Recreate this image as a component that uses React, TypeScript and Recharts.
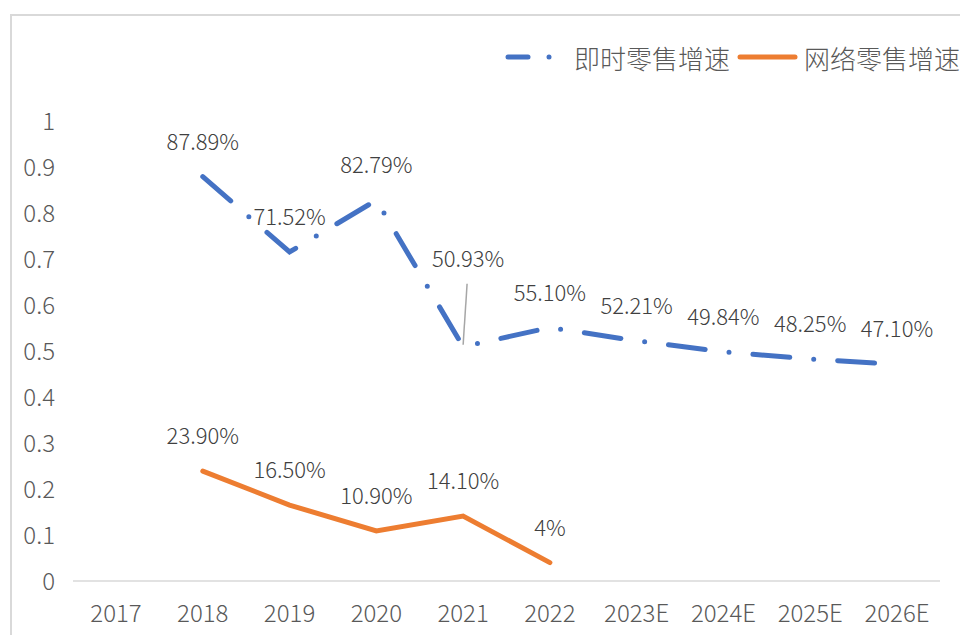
import React from 'react';
import { LineChart, Line, XAxis, YAxis, LabelList } from 'recharts';

const years = ['2017', '2018', '2019', '2020', '2021', '2022', '2023E', '2024E', '2025E', '2026E'];
const instantRetail = [null, 0.8789, 0.7152, 0.8279, 0.5093, 0.551, 0.5221, 0.4984, 0.4825, 0.471];
const onlineRetail = [null, 0.239, 0.165, 0.109, 0.141, 0.04, null, null, null, null];
const yTicks = [0, 0.1, 0.2, 0.3, 0.4, 0.5, 0.6, 0.7, 0.8, 0.9, 1];

const data = years.map((year, i) => ({
  year,
  instant: instantRetail[i],
  online: onlineRetail[i],
}));

const FONT = '"Noto Sans CJK SC", "Noto Sans", sans-serif';
const BLUE = '#4472C4';
const ORANGE = '#ED7D31';

const fmt = (v: number) => {
  const p = Math.round(v * 10000) / 100;
  return Number.isInteger(p) ? `${p}%` : `${p.toFixed(2)}%`;
};

const makeLabel = (leaderIndex: number) => (props: any) => {
  const { x, y, value, index } = props;
  if (value == null) return null;
  if (index === leaderIndex) {
    return (
      <g>
        <line x1={x + 4} y1={y - 63} x2={x} y2={y - 2} stroke="#a6a6a6" strokeWidth={1.5} />
        <text x={x + 5} y={y - 90} textAnchor="middle" dominantBaseline="central"
          fontSize={22} fontWeight={300} fill="#404040" fontFamily={FONT}>{fmt(value)}</text>
      </g>
    );
  }
  return (
    <text x={x} y={y - 37} textAnchor="middle" dominantBaseline="central"
      fontSize={22} fontWeight={300} fill="#404040" fontFamily={FONT}>{fmt(value)}</text>
  );
};

const LegendBox = () => (
  <svg width={460} height={40} style={{ display: 'block', overflow: 'visible' }}>
    <line x1={5} y1={20} x2={25} y2={20} stroke={BLUE} strokeWidth={5} strokeLinecap="round" />
    <circle cx={46} cy={20} r={2.5} fill={BLUE} />
    <text x={71} y={20} dominantBaseline="central" fontSize={26} fontWeight={300} fill="#595959" fontFamily={FONT}>即时零售增速</text>
    <line x1={237} y1={20} x2={292} y2={20} stroke={ORANGE} strokeWidth={5} strokeLinecap="round" />
    <text x={301} y={20} dominantBaseline="central" fontSize={26} fontWeight={300} fill="#595959" fontFamily={FONT}>网络零售增速</text>
  </svg>
);

export default function App() {
  return (
    <div style={{ position: 'absolute', left: 0, top: 0, width: 960, height: 635, overflow: 'hidden', background: '#fff' }}>
      <div style={{ position: 'absolute', left: 10, top: 14, width: 1000, height: 700, border: '2px solid #d9d9d9', boxSizing: 'border-box' }} />
      <div style={{ position: 'absolute', left: 503, top: 37 }}>
        <LegendBox />
      </div>
      <div style={{ position: 'absolute', left: 0, top: 0 }}>
        <LineChart width={960} height={635} data={data} margin={{ top: 121, right: 20, bottom: 4, left: 13 }}>
          <XAxis dataKey="year" axisLine={{ stroke: '#d9d9d9', strokeWidth: 1.5 }} tickLine={false}
            tick={{ fill: '#595959', fontSize: 24, fontWeight: 300, fontFamily: FONT }} tickMargin={18} height={50} interval={0}
            padding={{ left: 43, right: 43 }} />
          <YAxis domain={[0, 1]} ticks={yTicks} axisLine={false} tickLine={false} width={60}
            tick={{ fill: '#595959', fontSize: 24, fontWeight: 300, fontFamily: FONT }} tickMargin={12} />
          <Line type="linear" dataKey="instant" stroke={BLUE} strokeWidth={5} strokeLinecap="round"
            strokeDasharray="37 24 0 24" dot={false} activeDot={false} isAnimationActive={false}>
            <LabelList dataKey="instant" content={makeLabel(4)} />
          </Line>
          <Line type="linear" dataKey="online" stroke={ORANGE} strokeWidth={5} strokeLinecap="round"
            dot={false} activeDot={false} isAnimationActive={false}>
            <LabelList dataKey="online" content={makeLabel(-1)} />
          </Line>
        </LineChart>
      </div>
    </div>
  );
}
